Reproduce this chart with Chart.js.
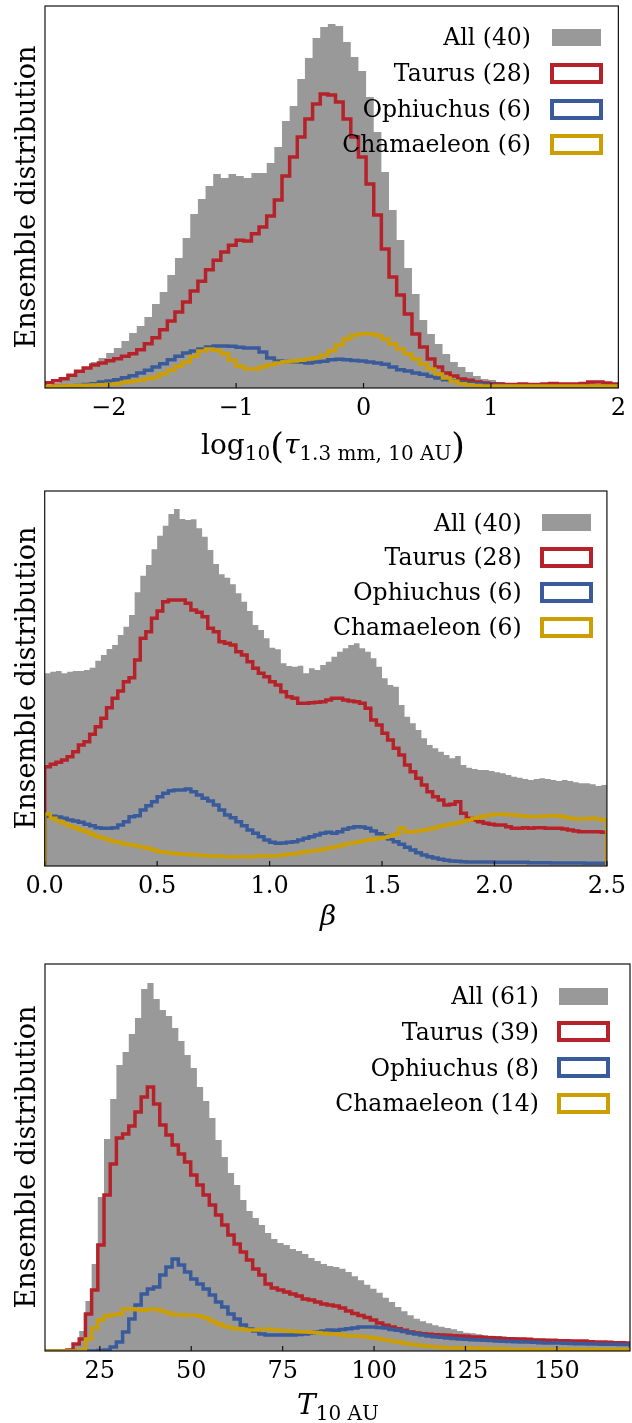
<!DOCTYPE html>
<html>
<head>
<meta charset="utf-8">
<script src="https://cdn.jsdelivr.net/npm/chart.js@4.4.1/dist/chart.umd.min.js"></script>
<style>
  body { margin: 0; background: #fff; width: 632px; height: 1423px; position: relative; overflow: hidden;
         font-family: "DejaVu Serif", serif; color: #000; }
  .panel { position: absolute; left: 0; width: 632px; }
  .panel canvas { position: absolute; left: 0; top: 0; }
  .ylab { position: absolute; font-size: 27px; line-height: 27px; white-space: nowrap;
          transform: translate(-50%, -50%) rotate(-90deg); }
  .xlab { position: absolute; font-size: 28px; line-height: 28px; white-space: nowrap; transform: translateX(-50%); }
  .xlab .sub { position: relative; top: 6px; font-size: 20px; }
  .xlab .par { position: relative; top: 4px; font-size: 35px; }
  .xlab i { font-style: italic; }
  .lt { position: absolute; font-size: 23.5px; line-height: 30px; height: 30px; white-space: nowrap; text-align: right; }
  .lb { position: absolute; box-sizing: border-box; }
</style>
</head>
<body>
<div id="p1" class="panel" style="top:0;height:480px"><canvas id="c1" width="632" height="480"></canvas></div>
<div id="p2" class="panel" style="top:480px;height:470px"><canvas id="c2" width="632" height="470"></canvas></div>
<div id="p3" class="panel" style="top:950px;height:473px"><canvas id="c3" width="632" height="473"></canvas></div>

<div class="ylab" style="left:25px;top:197px">Ensemble distribution</div>
<div class="ylab" style="left:25px;top:678px">Ensemble distribution</div>
<div class="ylab" style="left:25px;top:1157px">Ensemble distribution</div>

<div class="xlab" style="left:333px;top:428px">log<span class="sub">10</span><span class="par">(</span><i>τ</i><span class="sub">1.3 mm, 10 AU</span><span class="par">)</span></div>
<div class="xlab" style="left:328px;top:902px"><i>β</i></div>
<div class="xlab" style="left:338px;top:1391px"><i>T</i><span class="sub">10 AU</span></div>

<script>
// ---- panel 1: log10(tau), bins of 0.06 from -2.5 ----
var tauStart = -2.5, tauWidth = 0.06;
var tauTicks = [-2, -1, 0, 1, 2];
var tauLabels = ['All (40)', 'Taurus (28)', 'Ophiuchus (6)', 'Chamaeleon (6)'];
var tauAll = [3,5,8,11,15,21,26,30,35,40,
  47,55,62,71,84,96,113,130,150,174,
  189,202,214,210,214,212,210,215,215,225,
  241,267,282,309,330,350,361,364,362,346,
  331,317,291,256,216,178,148,120,94,68,
  54,44,34,26,21,16,12,9,8,6,
  5,5,4,4,4,4,4,4,4,4,
  5,5,4,4,4];
var tauTaurus = [5.3,7.3,9.3,12.7,16.7,20,23,25,27.3,29.3,
  31.7,34.3,38.3,44.3,50.3,58.3,67,76,86,97,
  106.7,118.3,127.7,136,142.7,147.7,147,154.3,161,172,
  188,212,231,251,269,284,294,293,286,269,
  251,231,204,173,139,111,93,74,54,41,
  29,21,15,12,9,7.7,6,5,4.3,4,
  3.5,3.5,4,3.5,3.5,4,4.5,4,4,4,
  4.5,6,6,5,4];
var tauOph = [1.3,1.5,1.7,2,2.5,3.5,4.3,6,7,8.3,
  10.3,12.3,15,17.7,21,24.3,28.3,31.7,35,37,
  39,41,42,42,41.7,40.7,40,40,36,30,
  27,26.5,26.3,26,25,26,26.7,28.3,28.7,28.3,
  27.5,27,26,25,23.7,21,18.3,17,15,13.7,
  11.7,10,8.3,7,5.7,5,4.3,3.5,3,2.5,
  2,2,1.5,1.5,1.5,1.5,1.5,1.5,1.5,1.5,
  1.5,1.5,1.5,1.5,1.5];
var tauCha = [1.5,1.7,2,2.2,2.5,2.8,3,3.3,3.7,4.3,
  5.7,6.7,7.7,9.3,11,14.3,17.7,21.7,26,31.7,
  37,39,37.7,34.3,27.7,21.7,19.3,19,21,23.3,
  25,26.3,27,27.7,29,30.3,32.7,37,43,49,
  52.7,54.3,54.3,52.7,49,44,39,34,29,24,
  19,14,10,6.7,4.3,3.3,2.5,2,2,2,
  2,2,2,2,2,2,2,2,2,2,
  2,2,2,2,2];

// ---- panel 2: beta, bins of 0.025 from 0 ----
var betaStart = 0, betaWidth = 0.025;
var betaTicks = [0, 0.5, 1, 1.5, 2, 2.5];
var betaLabels = ['All (40)', 'Taurus (28)', 'Ophiuchus (6)', 'Chamaeleon (6)'];
var betaAll = [192.7,194.3,195,192.7,194.3,195,195,196,198.3,205.3,
  211,217,221,231,239.3,251,273.7,290.3,301,316.7,
  330.3,340.3,352,357,347,346,346.7,337.7,329.3,316,
  302,291.7,288.3,281.7,272.7,264.3,255,241,236,227.7,
  218.3,216.7,202.7,200,199.3,200.3,192.7,197.7,196,201,
  204.3,209.3,214.3,217.7,221,222.7,217.7,214.3,207.7,199.3,
  187.7,181,179.3,161,149.3,142.7,136,127.7,121,117.7,
  114.3,111,107.7,110,101,98.3,97,96,96,95,
  93.7,92.7,91,89.3,88.3,87,86,87,87.7,87,
  86,85,86,85,83.7,82.7,82.7,81.7,80,81];
var betaTaurus = [99.3,101.7,103.7,106,109.3,114.3,121,124.3,131.7,139.3,
  147.7,158.3,167.7,175,184.3,188.3,206,227.7,234.3,247.7,
  255,264.3,266,266,266,262.7,256,253.7,249.3,237.7,
  234.3,224.3,222.7,221,214.3,211,204.3,197.7,192.7,189.3,
  184.3,181,174.3,169.3,167.7,162.7,162.7,163.3,163.7,164.3,
  166,167.7,167.7,166,165,164.3,162.7,157.7,146,141,
  132.7,126,117.7,111,101,94.3,87.7,81,74.3,69.3,
  66,61,61.7,64.3,52.7,47.7,46,44.3,42.7,41.7,
  41,41,39.3,37.7,37.7,38.3,37.7,38.3,38.3,37.7,
  37.7,37.7,37,36,35,34.3,34.3,34.3,34.3,33.7];
var betaOph = [49.7,49.7,49,47.7,46,45,43.7,41.7,40.3,38.3,
  37.7,37.7,38.3,41,44.3,49.3,50.3,56,60.3,64.3,
  69.3,72.7,75.3,76,76,77,74.3,71,67.7,65,
  61,56,51,48.3,44.3,40.3,36,32.7,29.3,26,
  23.7,22.7,23,23.7,24.3,26,27.7,29.3,31,32.7,
  33.7,32.7,34.3,36.7,38.3,39.3,39,37.7,35,32.3,
  30.3,27,24.3,21.7,18.7,16,13.3,11,9.3,8,
  6.7,5.7,5,4.7,4.3,4,4,4,4,4,
  3.7,3.7,3.7,3.7,3.7,3.7,3.3,3.3,3.3,3.3,
  3,3,3,3,3,3,2.7,2.7,2.7,2.7];
var betaCha = [52,47.7,45,42.7,40.3,38.3,36,34.3,31.7,29.3,
  27.7,26,24.3,23.3,21.7,21,20,18.7,17.7,16,
  14.3,13.7,13,12.3,11.7,11.7,11,11,10.3,10,
  9.7,9.7,9.3,9.3,9.3,9.3,9.3,9.7,10,10,
  10.3,10.3,11,11.7,12.3,13.3,14.3,15,15.3,16.7,
  17.7,19,20,21.7,22.7,23.7,24.7,25.7,26.7,27.7,
  28.7,29.7,31.7,38,34,34.3,35,36,37,38.3,
  39.7,41,42,43,44.7,46,47.7,49,50.3,51,
  51.7,51.7,51.3,51,50.3,49.7,49.3,49.3,49.7,50,
  50.3,50,49,48,47.3,47,47.3,47.7,47,46];

// ---- panel 3: T10AU, bins of 1.694 K from 9.2 ----
var tempStart = 9.2, tempWidth = 1.694;
var tempTicks = [25, 50, 75, 100, 125, 150];
var tempLabels = ['All (61)', 'Taurus (39)', 'Ophiuchus (8)', 'Chamaeleon (14)'];
var tempAll = [0,0,0,0,0.5,6,20,50,87,154,
  212,252,286,299,317,333,362,368,352,341,
  335,323,310,296,283,264,250,233,211,194,
  178,166,151,140,133,126,118,112,108,106,
  102,100,97,93,90,87,85,84,82.3,79,
  74.7,70.7,66.3,62.3,58.3,53.3,49,44,39.7,35.7,
  32.3,29.7,27.7,25.7,24.3,23,21.7,20,18.3,17.7,
  16.7,16,15.3,15,14.7,14,13.7,13.3,13,12.7,
  12.3,12.3,12,11.7,11.7,11.3,11,10.7,10.3,10,
  10,9.7,9.3,9,9];
var tempTaurus = [0,0,0,0,1,7,12,37,61,106,
  156,187,213,217,225,239,254,264,247,226,
  216,206,197,189,176,166,156,146,136,126,
  116,107,99,91,82,76,67,63,61,59,
  57,55,52,51,49,47,46,45,43,40,
  37.5,35.5,33.5,31,28,25.7,24,22.3,20.7,19,
  18,17.3,16.7,16.3,16,15.7,15.3,15,14.7,14,
  14,13.3,13.3,13,12.3,12.3,12,12,11.7,11,
  11,10.7,10.7,10.3,10.3,10,10,10,9.3,9,
  9,8.7,8.3,8.3,8];
var tempOph = [0,0,0,0,0,0,0,0,0,0.5,
  1,4,9,19,32,46,57,62,64,76,
  84,92,86,79,72,67,62,56,49,44,
  37,32,26,22,20,17,16,16,16,16,
  16,16.5,17,18,19,20,21,20.7,21.5,22.3,
  23,24,24,24,23.5,23,21.5,20.7,19.5,18,
  17,16,15,14.3,13.7,13,12.5,12,11.7,11.3,
  11,10.7,10.5,10,9.7,9.5,9.3,9,9,8.7,
  8.3,8,8,8,7.7,7.5,7.3,7.3,7,7,
  6.8,6.7,6.7,6.5,6.5];
var tempCha = [0,0,0,0,0,0,1,12,23,31,
  35,36,37,42,42.3,41.3,40.7,41.7,41.7,39.7,
  38,36.3,36.3,35.7,35.7,35,33,30,27.3,24.7,
  23.3,22.3,21.7,21,21,21.7,21.7,21,20.7,20,
  19.7,19.3,19,18.7,18.3,17.7,17,17,16,15.3,
  15,14.7,14,13,12.3,11,10,9,7.7,6.7,
  6,5.3,4.7,4,3.7,3.3,3.3,3,3,2.7,
  2.7,2.3,2.3,2.3,2.3,1.5,1.5,1.5,1.5,1.5,
  1.5,1.5,1.5,1.5,1.5,1.5,1.5,1.5,1.5,1.5,
  1.5,1.5,1.5,1.5,1.5];

var GRAY = '#999999', RED = '#b5222a', BLUE = '#3a5b9b', GOLD = '#cc9e00';

// histogram outline as points on the bin edges, closed down to zero at both ends
function steps(start, width, vals) {
  var pts = [{x: start, y: 0}];
  vals.forEach(function (v, i) { pts.push({x: start + i * width, y: v}); });
  pts.push({x: start + vals.length * width, y: 0});
  return pts;
}

var frame = {
  id: 'frame',
  afterDatasetsDraw: function (chart) {
    var ctx = chart.ctx, a = chart.chartArea, x = chart.scales.x;
    ctx.save();
    ctx.strokeStyle = '#111';
    ctx.lineWidth = 1.2;
    ctx.beginPath();
    x.ticks.forEach(function (t) {
      var px = x.getPixelForValue(t.value);
      ctx.moveTo(px, a.bottom);
      ctx.lineTo(px, a.bottom - 5);
    });
    ctx.stroke();
    ctx.strokeRect(a.left, a.top, a.right - a.left, a.bottom - a.top);
    ctx.restore();
  }
};

function makeChart(id, cfg) {
  // lower order is drawn later, so gold ends up on top and the grey fill at the back
  var line = function (data, color, order) {
    return {data: steps(cfg.start, cfg.width, data), stepped: 'before', borderColor: color, order: order,
            borderWidth: 3.5, fill: false, pointRadius: 0, borderJoinStyle: 'miter', borderCapStyle: 'butt'};
  };
  return new Chart(document.getElementById(id).getContext('2d'), {
    type: 'line',
    data: {
      datasets: [
        {data: steps(cfg.start, cfg.width, cfg.all), stepped: 'before', borderWidth: 0, order: 10,
         borderColor: GRAY, backgroundColor: GRAY, fill: 'origin', pointRadius: 0},
        line(cfg.taurus, RED, 3),
        line(cfg.oph, BLUE, 2),
        line(cfg.cha, GOLD, 1)
      ]
    },
    options: {
      responsive: false,
      animation: false,
      devicePixelRatio: 1,
      events: [],
      layout: {padding: cfg.pad},
      plugins: {legend: {display: false}, tooltip: {enabled: false}},
      scales: {
        x: {
          type: 'linear', min: cfg.min, max: cfg.max,
          afterBuildTicks: function (s) { s.ticks = cfg.ticks.map(function (v) { return {value: v}; }); },
          afterFit: function (s) { s.height = cfg.axisH; },
          grid: {display: false, drawTicks: false},
          border: {display: false},
          ticks: {
            autoSkip: false, maxRotation: 0, padding: 6, color: '#000',
            font: {family: 'DejaVu Serif', size: 24},
            callback: cfg.fmt
          }
        },
        y: {display: false, min: 0, max: cfg.ymax}
      }
    },
    plugins: [frame]
  });
}

function legend(names, textRight, boxCx, rows) {
  var colors = [null, RED, BLUE, GOLD];
  names.forEach(function (n, i) {
    var t = document.createElement('div');
    t.className = 'lt';
    t.textContent = n;
    t.style.right = (632 - textRight) + 'px';
    t.style.top = (rows[i] - 15) + 'px';
    document.body.appendChild(t);
    var b = document.createElement('div');
    b.className = 'lb';
    if (i === 0) {
      b.style.background = GRAY;
      b.style.left = (boxCx - 24.5) + 'px'; b.style.top = (rows[i] - 8.5) + 'px';
      b.style.width = '49px'; b.style.height = '17px';
    } else {
      b.style.border = '4.5px solid ' + colors[i];
      b.style.left = (boxCx - 26.5) + 'px'; b.style.top = (rows[i] - 10.5) + 'px';
      b.style.width = '53px'; b.style.height = '21px';
    }
    document.body.appendChild(b);
  });
}

var minus = function (v) { return v < 0 ? '\u2212' + Math.abs(v) : String(v); };

makeChart('c1', {start: tauStart, width: tauWidth, all: tauAll, taurus: tauTaurus, oph: tauOph, cha: tauCha,
  min: -2.5, max: 2, ticks: tauTicks, fmt: minus, ymax: 382,
  pad: {left: 45, top: 6, right: 9.5, bottom: 0}, axisH: 92});
makeChart('c2', {start: betaStart, width: betaWidth, all: betaAll, taurus: betaTaurus, oph: betaOph, cha: betaCha,
  min: 0, max: 2.5, ticks: betaTicks, fmt: function (v) { return v.toFixed(1); }, ymax: 375,
  pad: {left: 44.7, top: 11, right: 22, bottom: 0}, axisH: 84});
makeChart('c3', {start: tempStart, width: tempWidth, all: tempAll, taurus: tempTaurus, oph: tempOph, cha: tempCha,
  min: 10, max: 170, ticks: tempTicks, fmt: function (v) { return String(v); }, ymax: 387,
  pad: {left: 45, top: 14, right: 2, bottom: 0}, axisH: 72});

legend(tauLabels, 531, 576, [37.3, 73, 109, 144]);
legend(betaLabels, 521.7, 566, [522.7, 557, 592, 627]);
legend(tempLabels, 539, 583.4, [996, 1031.5, 1067.5, 1103]);
</script>
</body>
</html>
